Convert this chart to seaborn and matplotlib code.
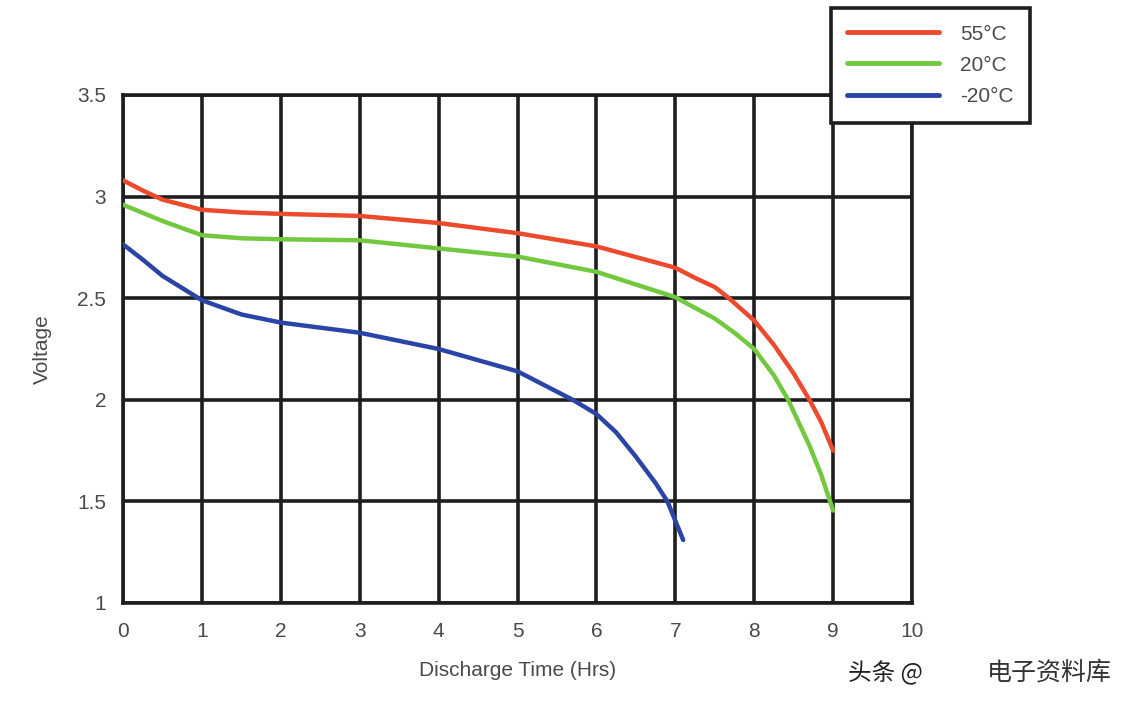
import matplotlib
matplotlib.use("Agg")
import matplotlib.pyplot as plt
import seaborn as sns
import pandas as pd
from matplotlib.lines import Line2D

# ---- data ----
red_x = [0, 0.25, 0.5, 1, 1.5, 2, 3, 4, 5, 6, 7, 7.25, 7.5, 7.68, 8, 8.25, 8.5, 8.7, 8.85, 9]
red_y = [3.08, 3.03, 2.985, 2.935, 2.922, 2.915, 2.905, 2.87, 2.82, 2.755, 2.65, 2.60, 2.555, 2.5,
         2.39, 2.27, 2.13, 2.0, 1.89, 1.75]
green_x = [0, 0.25, 0.5, 1, 1.5, 2, 3, 4, 5, 6, 7, 7.5, 7.75, 8, 8.25, 8.43, 8.7, 8.85, 9]
green_y = [2.96, 2.92, 2.88, 2.81, 2.795, 2.79, 2.785, 2.745, 2.705, 2.63, 2.505, 2.40, 2.33, 2.25,
           2.12, 2.0, 1.775, 1.63, 1.455]
blue_x = [0, 0.25, 0.5, 1, 1.5, 2, 3, 4, 5, 5.7, 6, 6.25, 6.5, 6.75, 6.9, 7.1]
blue_y = [2.765, 2.69, 2.61, 2.49, 2.42, 2.38, 2.33, 2.25, 2.14, 2.0, 1.93, 1.84, 1.72, 1.59, 1.5, 1.31]
series_names = ["55°C", "20°C", "-20°C"]
colors = ["#ec4a2c", "#72c83e", "#2b45a6"]
x_ticks = [0, 1, 2, 3, 4, 5, 6, 7, 8, 9, 10]
y_ticks = [1, 1.5, 2, 2.5, 3, 3.5]
y_tick_labels = ["1", "1.5", "2", "2.5", "3", "3.5"]

frames = []
for name, xs, ys in zip(series_names, [red_x, green_x, blue_x], [red_y, green_y, blue_y]):
    frames.append(pd.DataFrame({"x": xs, "y": ys, "series": name}))
df = pd.concat(frames, ignore_index=True)

sns.set_style("white")
plt.rcParams['font.family'] = ['Liberation Sans', 'DejaVu Sans']

fig = plt.figure(figsize=(11.26, 7.06), dpi=100)
ax = fig.add_axes([123/1126, 1-603/706, (912-123)/1126, (603-95)/706])

sns.lineplot(data=df, x="x", y="y", hue="series", palette=dict(zip(series_names, colors)),
             linewidth=3.2, ax=ax, legend=False, sort=False, estimator=None, zorder=3)
for l in ax.lines:
    l.set_solid_joinstyle("round")
    l.set_solid_capstyle("round")

ax.set_xlim(0, 10)
ax.set_ylim(1, 3.5)
ax.set_xticks(x_ticks)
ax.set_yticks(y_ticks)
ax.set_yticklabels(y_tick_labels)
ax.grid(True, color="#1e1e1e", linewidth=2.6, zorder=1)
ax.set_axisbelow(True)
for s in ax.spines.values():
    s.set_color("#1e1e1e")
    s.set_linewidth(2.6)
ax.tick_params(axis="both", length=0, labelsize=15, labelcolor="#4a4a4a")
ax.tick_params(axis="x", pad=14)
ax.tick_params(axis="y", pad=12)
ax.set_xlabel("Discharge Time (Hrs)", fontsize=15, color="#4a4a4a", labelpad=14)
ax.set_ylabel("Voltage", fontsize=15, color="#4a4a4a", labelpad=18)

handles = [Line2D([0], [0], color=c, lw=3.5) for c in colors]
leg = fig.legend(handles, series_names, loc="upper right",
                 bbox_to_anchor=(1030/1126, 1-8/706),
                 fontsize=15, handlelength=4.4, handletextpad=1.0, labelspacing=0.58,
                 borderpad=0.8, fancybox=False, frameon=True, framealpha=1.0, borderaxespad=0)
leg.get_frame().set_edgecolor("#1e1e1e")
leg.get_frame().set_linewidth(2.6)
leg.set_zorder(10)
for t in leg.get_texts():
    t.set_color("#4a4a4a")

fig.text(848/1126, 1-673/706, "头条 @", fontsize=17, color="#222222",
         family=['Noto Sans CJK SC', 'DejaVu Sans'], va="center", ha="left")
fig.text(1112/1126, 1-673/706, "电子资料库", fontsize=18, color="#333333",
         family=['Noto Sans CJK SC', 'DejaVu Sans'], va="center", ha="right")

fig.savefig("out.png", dpi=100, facecolor="white")
